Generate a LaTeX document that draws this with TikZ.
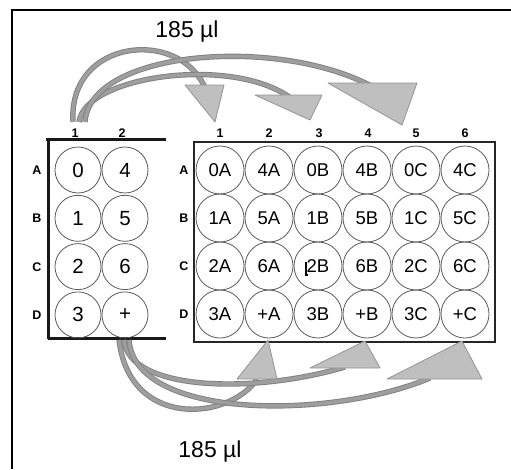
\documentclass[tikz,border=0pt]{standalone}
\usepackage{fontspec}
\setmainfont{Liberation Sans}
\begin{document}
\begin{tikzpicture}[x=1pt,y=-1pt,
  well/.style={circle,draw=black!65,line width=0.8pt,minimum size=48pt,inner sep=0pt,font=\fontsize{18.5}{18.5}\selectfont},
  bigwell/.style={well,minimum size=46pt,font=\fontsize{20.5}{20.5}\selectfont},
  lab/.style={font=\bfseries\fontsize{12.5}{12.5}\selectfont,inner sep=0pt},
  vol/.style={font=\fontsize{23}{23}\selectfont,inner sep=0pt},
  shaft/.style={draw=black!50,double=black!38,double distance=3.6pt,line width=0.9pt},
  head/.style={fill=black!25,draw=black!42,line width=0.8pt,line join=round},
  plate/.style={line width=3pt,draw=black!90}
]
\useasboundingbox (0,0) rectangle (511,469);
% outer frame
\draw[line width=1.6pt] (12,469) -- (12,10) -- (511,10);

% left plate
\draw[plate] (46,139) -- (166,139);
\draw[plate] (48,139) -- (48,339);
\draw[plate] (48,338) -- (166,338);
\foreach \r/\y in {A/170,B/218,C/267,D/315}
  \node[lab] (LR\r) at (37,\y) {\r};
\node[lab] (LC1) at (75,133) {1};
\node[lab] (LC2) at (122,133) {2};
\foreach \t [count=\i] in {0,1,2,3}
  \pgfmathsetmacro{\yy}{170+48.3*(\i-1)}
  \node[bigwell] (L-1-\i) at (78,\yy) {\t};
\foreach \t [count=\i] in {4,5,6,+}
  \pgfmathsetmacro{\yy}{170+48.3*(\i-1)}
  \node[bigwell] (L-2-\i) at (125,\yy) {\t};

% right plate
\draw[line width=2.6pt,draw=black!85] (194,142) rectangle (495,342);
\foreach \r/\y in {A/170,B/218,C/266,D/314}
  \node[lab] (RR\r) at (184,\y) {\r};
\foreach \c/\x in {1/220,2/269,3/319,4/368,5/416,6/465}
  \node[lab] (RC\c) at (\x,133) {\c};
\foreach \row/\y/\list in {1/170/{0A,4A,0B,4B,0C,4C},2/218/{1A,5A,1B,5B,1C,5C},3/266/{2A,6A,2B,6B,2C,6C},4/314/{3A,+A,3B,+B,3C,+C}}
  \foreach \t [count=\c] in \list {
    \pgfmathsetmacro{\xx}{220+49*(\c-1)}
    \node[well] (R-\c-\row) at (\xx,\y) {\t};
  }
% stray cursor mark
\draw[line width=1.2pt] (306,262) -- (306,275) -- (308,275);

% volume labels
\node[vol] (vtop) at (187,32) {185 µl};
\node[vol] (vbot) at (210,452) {185 µl};

% top transfers
\coordinate (s1) at (73,122);
\coordinate (s2) at (79,122);
\coordinate (s3) at (85,122);
\coordinate (e1) at (205,88);
\coordinate (e2) at (292,99);
\coordinate (e3) at (375,88);
\draw[shaft] (s1) .. controls (68,38) and (180,28) .. (e1);
\draw[shaft] (s2) .. controls (85,75) and (235,55) .. (e2);
\draw[shaft] (s3) .. controls (90,50) and (280,35) .. (e3);
\draw[head] (185,85) -- (224,85) -- (215,122) -- cycle;
\draw[head] (255,95) -- (322,95) -- (310,120) -- cycle;
\draw[head] (328,83) -- (417,83) -- (402,125) -- cycle;

% bottom transfers
\coordinate (b1) at (119,340);
\coordinate (b2) at (124,340);
\coordinate (b3) at (129,340);
\coordinate (f1) at (257,379);
\coordinate (f2) at (345,367);
\coordinate (f3) at (430,378);
\draw[shaft] (b1) .. controls (130,430) and (230,420) .. (f1);
\draw[shaft] (b2) .. controls (128,390) and (250,395) .. (f2);
\draw[shaft] (b3) .. controls (135,420) and (330,420) .. (f3);
\draw[head] (268,340) -- (277,379) -- (237,379) -- cycle;
\draw[head] (365,341) -- (380,368) -- (310,368) -- cycle;
\draw[head] (462,341) -- (482,379) -- (387,379) -- cycle;
\end{tikzpicture}
\end{document}
